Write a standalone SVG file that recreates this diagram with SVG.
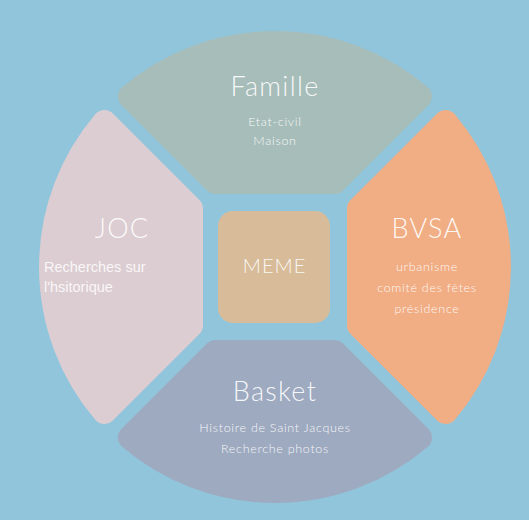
<svg xmlns="http://www.w3.org/2000/svg" width="529" height="520" viewBox="0 0 529 520">
<style>
.seg{stroke-width:24;stroke-linejoin:round}
.t{font-family:Lato,"Open Sans","Liberation Sans",sans-serif;fill:#ffffff;fill-opacity:0.92;text-anchor:middle}
.h{font-size:27px;font-weight:300;letter-spacing:1.3px}
.s{font-size:12.5px;font-weight:300;letter-spacing:0.7px}
.a{font-family:"Liberation Sans",Arial,sans-serif;fill:#ffffff;fill-opacity:0.85;font-size:14.5px}
</style>
<rect width="529" height="520" fill="#91c5dc"/>
<g id="famille">
<path class="seg" d="M215.5 182 L129.9 96.4 A224 224 0 0 1 420.1 96.4 L334.5 182 Z" fill="#a7bdba" stroke="#a7bdba"/>
<text class="t h" x="275" y="96">Famille</text>
<text class="t s" x="275" y="126">Etat-civil</text>
<text class="t s" x="275" y="145">Maison</text>
</g>
<g id="joc">
<path class="seg" d="M191 208.5 L104.4 121.9 A224 224 0 0 0 104.4 412.1 L191 325.5 Z" fill="#dccdd2" stroke="#dccdd2"/>
<text class="t h" x="122" y="238">JOC</text>
<text class="a" x="44" y="272">Recherches sur</text>
<text class="a" x="44" y="292">l'hsitorique</text>
</g>
<g id="bvsa">
<path class="seg" d="M359 208.5 L445.6 121.9 A224 224 0 0 1 445.6 412.1 L359 325.5 Z" fill="#f1ae85" stroke="#f1ae85"/>
<text class="t h" x="427" y="238">BVSA</text>
<text class="t s" x="427" y="271">urbanisme</text>
<text class="t s" x="427" y="292">comité des fêtes</text>
<text class="t s" x="427" y="313">présidence</text>
</g>
<g id="basket">
<path class="seg" d="M215.5 352 L129.9 437.6 A224 224 0 0 0 420.1 437.6 L334.5 352 Z" fill="#9eaabf" stroke="#9eaabf"/>
<text class="t h" x="275" y="401">Basket</text>
<text class="t s" x="275" y="432">Histoire de Saint Jacques</text>
<text class="t s" x="275" y="453">Recherche photos</text>
</g>
<g id="meme">
<rect x="218" y="211" width="112" height="112" rx="15" fill="#d8bc99"/>
<text class="t" x="274.5" y="273" style="font-size:20px;font-weight:300;letter-spacing:1px">MEME</text>
</g>
<g id="connectors"></g>
</svg>
